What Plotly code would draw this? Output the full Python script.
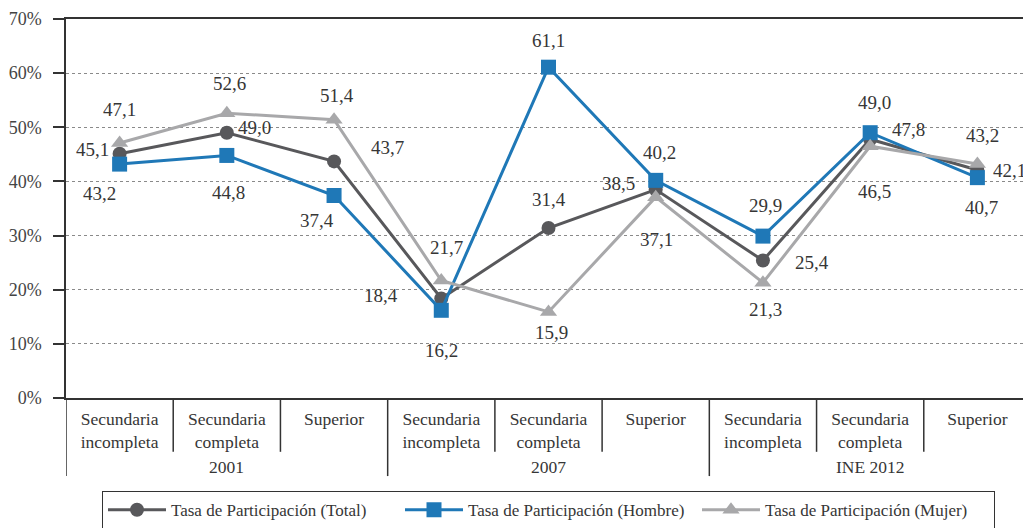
import plotly.graph_objects as go

# ---- data ----
categories = ["Secundaria<br>incompleta", "Secundaria<br>completa", "Superior",
              "Secundaria<br>incompleta", "Secundaria<br>completa", "Superior",
              "Secundaria<br>incompleta", "Secundaria<br>completa", "Superior"]
groups = ["2001", "2007", "INE 2012"]
total = [45.1, 49.0, 43.7, 18.4, 31.4, 38.5, 25.4, 47.8, 42.1]
hombre = [43.2, 44.8, 37.4, 16.2, 61.1, 40.2, 29.9, 49.0, 40.7]
mujer = [47.1, 52.6, 51.4, 21.7, 15.9, 37.1, 21.3, 46.5, 43.2]
y_ticks = [0, 10, 20, 30, 40, 50, 60, 70]

# ---- styles ----
FONT = "Liberation Serif"
TXT = "#363636"
series = [
    ("Tasa de Participación (Total)", total, "#58585b", "circle", 14,
     [(-27, 4), (28, 5), (53, 14), (-60, 3), (0, 28), (-37, 6), (49, -2), (38, 10), (32, 0)]),
    ("Tasa de Participación (Hombre)", hombre, "#1f78b7", "square", 15,
     [(-20, -29), (2, -37), (-17, -25), (0, -40), (0, 27), (4, 28), (3, 31), (4, 30), (4, -30)]),
    ("Tasa de Participación (Mujer)", mujer, "#a8a8aa", "triangle-up", 15,
     [(0, 33), (3, 30), (3, 24), (5, 33), (3, -21), (1, -42), (3, -27), (4, -45), (5, 29)]),
]

x_idx = list(range(len(categories)))

fig = go.Figure()
annotations = []
for name, vals, color, sym, msize, offs in series:
    fig.add_trace(go.Scatter(
        x=x_idx, y=vals, name=name, mode="lines+markers",
        line=dict(color=color, width=3),
        marker=dict(symbol=sym, size=msize, color=color),
        cliponaxis=False,
    ))
    for xi, v, (dx, dy) in zip(x_idx, vals, offs):
        annotations.append(dict(
            x=xi, y=v, xref="x", yref="y", text=f"{v:.1f}".replace(".", ","),
            showarrow=False, xshift=dx, yshift=dy,
            font=dict(family=FONT, size=19, color=TXT)))

# group labels
for gi, g in enumerate(groups):
    annotations.append(dict(
        x=gi * 3 + 1, y=-0.182, xref="x", yref="paper", text=g, showarrow=False,
        font=dict(family=FONT, size=17.5, color=TXT), yanchor="middle"))

shapes = []
n = len(categories)
for i in range(n):
    b = i - 0.5
    long = (i % 3 == 0)
    shapes.append(dict(type="line", xref="x", yref="paper", x0=b, x1=b,
                       y0=0, y1=-0.206 if long else -0.142,
                       line=dict(color="#333333", width=1.5)))

# the page body adds an 8px offset, so margins compensate for it
fig.update_layout(
    width=1031, height=528,
    margin=dict(l=58, r=8, t=11, b=138, autoexpand=False),
    paper_bgcolor="white", plot_bgcolor="white",
    font=dict(family=FONT, color=TXT),
    showlegend=True,
    legend=dict(orientation="h", x=0.5, xanchor="center", y=-0.246, yanchor="top",
                bordercolor="#333333", borderwidth=1,
                font=dict(family=FONT, size=17, color=TXT),
                itemwidth=58, entrywidth=224, entrywidthmode="pixels",
                traceorder="normal"),
    annotations=annotations,
    shapes=shapes,
    xaxis=dict(range=[-0.5, n - 0.5], tickmode="array", tickvals=x_idx,
               ticktext=categories, showgrid=False, zeroline=False,
               showline=True, linecolor="#333333", linewidth=1.5, mirror=True,
               ticks="", ticklabelstandoff=4, automargin=False,
               tickfont=dict(family=FONT, size=17.5, color=TXT)),
    yaxis=dict(range=[0, 70], tickmode="array", tickvals=y_ticks,
               ticktext=[f"{t}%" for t in y_ticks], automargin=False,
               showgrid=True, gridcolor="#8a8a8a", griddash="dot", gridwidth=1,
               zeroline=False, showline=True, linecolor="#333333", linewidth=1.5,
               ticks="outside", ticklen=11, tickcolor="#333333", tickwidth=1.5,
               ticklabelstandoff=8,
               tickfont=dict(family=FONT, size=18, color="#444444")),
)

fig.write_html("out.html")
